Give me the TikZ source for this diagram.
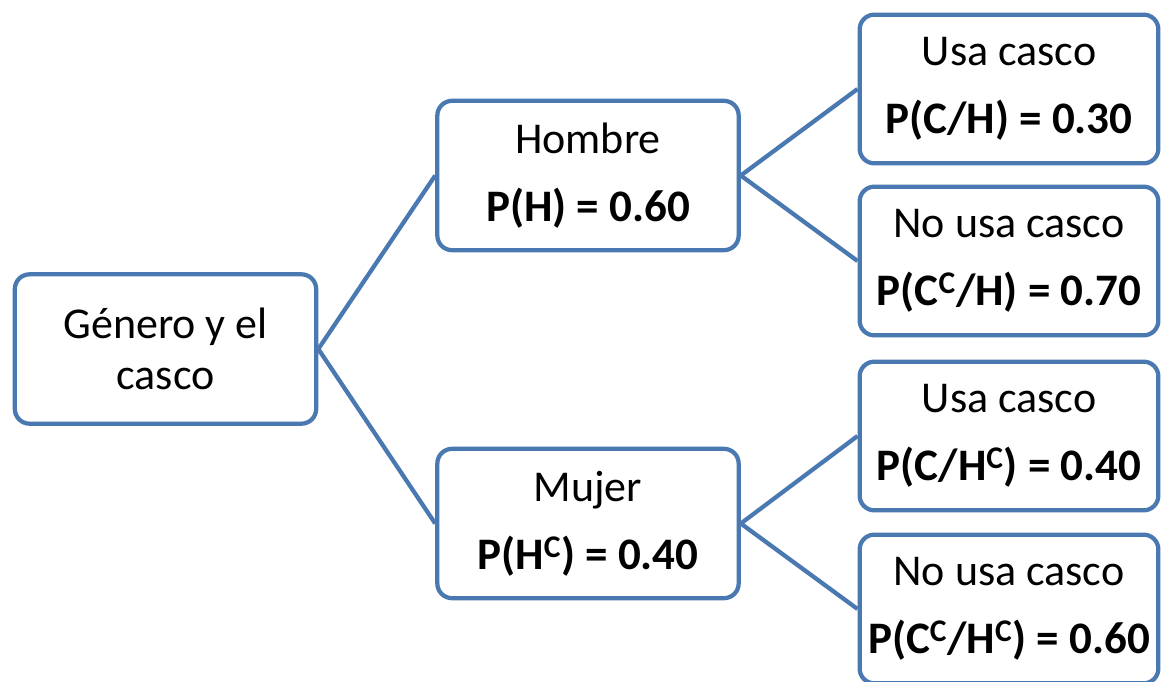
\documentclass[tikz,border=0pt]{standalone}
\usepackage{fontspec}
\setmainfont{Carlito}
\usetikzlibrary{positioning}
\definecolor{treeBlue}{HTML}{4A78B0}
\newcommand{\probtext}[1]{{\fontsize{33.8}{51}\selectfont\bfseries #1}}

\begin{document}
\begin{tikzpicture}[x=0.75pt, y=-0.75pt, line width=3.2pt,
  probbox/.style={draw=treeBlue, fill=white, rounded corners=11pt, align=center,
    inner sep=0pt, minimum width=226pt, minimum height=112pt,
    font=\fontsize{33}{51}\selectfont},
  leafbox/.style={probbox, minimum width=224pt, minimum height=111.5pt},
  branch/.style={draw=treeBlue}]
\useasboundingbox (0,0) rectangle (1161,682);
\clip (0,0) rectangle (1161,682);
% raiz
\node[probbox, font=\fontsize{33}{38.5}\selectfont] (raiz) at (165.5,349) {Género y el\\casco};
% primer nivel
\node[probbox] (hombre) at (588,175.5) {Hombre\\\probtext{P(H) = 0.60}};
\node[probbox] (mujer) at (588,523.5) {Mujer\\\probtext{P(H\textsuperscript{C}) = 0.40}};
% hojas
\node[leafbox] (hc) at (1009,89) {Usa casco\\\probtext{P(C/H) = 0.30}};
\node[leafbox] (hnc) at (1009,261) {No usa casco\\\probtext{P(C\textsuperscript{C}/H) = 0.70}};
\node[leafbox] (mc) at (1009,436) {Usa casco\\\probtext{P(C/H\textsuperscript{C}) = 0.40}};
\node[leafbox] (mnc) at (1009,609) {No usa casco\\\probtext{P(C\textsuperscript{C}/H\textsuperscript{C}) = 0.60}};
% ramas
\draw[branch] (raiz.east) -- (hombre.west);
\draw[branch] (raiz.east) -- (mujer.west);
\draw[branch] (hombre.east) -- (hc.west);
\draw[branch] (hombre.east) -- (hnc.west);
\draw[branch] (mujer.east) -- (mc.west);
\draw[branch] (mujer.east) -- (mnc.west);
\end{tikzpicture}
\end{document}
